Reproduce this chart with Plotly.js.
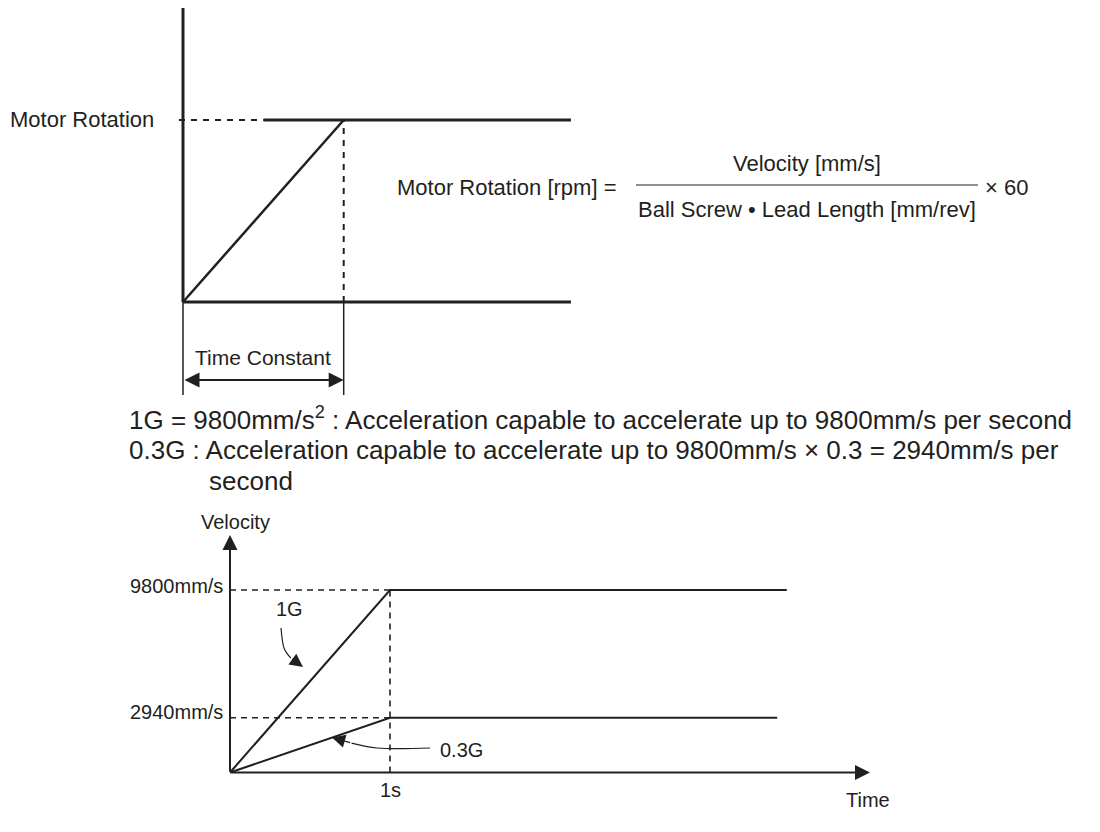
<!DOCTYPE html>
<html>
<head>
<meta charset="utf-8">
<script src="https://cdn.plot.ly/plotly-3.0.1.min.js"></script>
<style>html,body{margin:0;padding:0;background:#fff;}#chart{width:1100px;height:832px;}</style>
</head>
<body>
<div id="chart"></div>
<script>
// ---------- data ----------
// Top diagram: motor rotation vs time (in units of the time constant)
const rampTime = [0, 1];            // 0 .. one time constant
const rampRotation = [0, 1];        // 0 .. full motor rotation
const topLineEnd = 2.414;           // end of the drawn horizontal lines
const topAxisTop = 1.615;

// Bottom diagram: velocity vs time
const accelLabels = ['1G', '0.3G'];
const accelTime = [0, 1];                     // s
const velocity1G = [0, 9800];                 // mm/s
const velocity03G = [0, 2940];                // mm/s
const plateauEnd = [3.48, 3.42];              // s
const velocityTicks = [9800, 2940];
const velocityTickText = ['9800mm/s', '2940mm/s'];
const timeTickText = ['1s'];
const timeAxisEnd = 4.0;
const velocityAxisEnd = 12750;

// ---------- helpers ----------
const FONT = 'Liberation Sans, Arial, sans-serif';
const INK = '#231f20';
const W = 1100, H = 832;
const px = x => x / W;
const py = y => 1 - y / H;

const traces = [];
function seg(x, y, xa, ya, width, dash, shape) {
  traces.push({x: x, y: y, xaxis: xa, yaxis: ya, type: 'scatter', mode: 'lines',
    line: {color: INK, width: width, dash: dash || 'solid', shape: shape || 'linear'},
    hoverinfo: 'skip', showlegend: false});
}

// ----- top diagram -----
seg([0, 0], [0, topAxisTop], 'x', 'y', 3);                       // vertical axis
seg([0, 0], [0, -0.511], 'x', 'y', 1.5);                         // dimension tick
seg([rampTime[1], rampTime[1]], [0, -0.511], 'x', 'y', 1.5);     // dimension tick
seg([-0.025, 0.5], [rampRotation[1], rampRotation[1]], 'x', 'y', 2, '6px,6px');
seg([0.5, topLineEnd], [rampRotation[1], rampRotation[1]], 'x', 'y', 3);
seg([0, topLineEnd], [0, 0], 'x', 'y', 3);                       // baseline
seg([rampTime[1], rampTime[1]], [0, rampRotation[1]], 'x', 'y', 2, '6px,6px');
seg(rampTime, rampRotation, 'x', 'y', 2.5);                      // ramp

// ----- bottom diagram -----
seg([accelTime[0], accelTime[1], plateauEnd[0]], [velocity1G[0], velocity1G[1], velocity1G[1]], 'x2', 'y2', 2);
seg([accelTime[0], accelTime[1], plateauEnd[1]], [velocity03G[0], velocity03G[1], velocity03G[1]], 'x2', 'y2', 2);
seg([0, accelTime[1]], [velocityTicks[0], velocityTicks[0]], 'x2', 'y2', 1.6, '6px,5px');
seg([0, accelTime[1]], [velocityTicks[1], velocityTicks[1]], 'x2', 'y2', 1.6, '6px,5px');
seg([accelTime[1], accelTime[1]], [0, velocityTicks[0]], 'x2', 'y2', 1.6, '6px,5px');
// curved leader for 1G
seg([0.319, 0.34, 0.38], [7760, 6630, 6150], 'x2', 'y2', 1.2, 'solid', 'spline');
// curved leader for 0.3G
seg([1.25, 0.92, 0.76], [1316, 1316, 1580], 'x2', 'y2', 1.2, 'solid', 'spline');

const ann = [];
function txt(o) {
  ann.push(Object.assign({showarrow: false, xanchor: 'center', font: {family: FONT, size: 21, color: INK}}, o));
}
function arrow(o) {
  ann.push(Object.assign({text: '', showarrow: true, arrowcolor: INK, arrowhead: 2,
    arrowwidth: 2, arrowsize: 1.5, standoff: 0, startstandoff: 0}, o));
}

// top labels
txt({xref: 'paper', x: px(8), xanchor: 'left', yref: 'y', y: rampRotation[1], yanchor: 'middle',
     text: 'Motor Rotation', font: {family: FONT, size: 22, color: INK}});
txt({xref: 'x', x: rampTime[1] / 2, yref: 'y', y: -0.3077, text: 'Time Constant'});
arrow({xref: 'x', yref: 'y', x: rampTime[1], y: -0.4286, axref: 'x', ayref: 'y', ax: 0, ay: -0.4286,
       arrowside: 'end+start', startarrowhead: 2, startarrowsize: 1.5});

// formula
const FRAC = {family: FONT, size: 22, color: INK};
txt({xref: 'paper', yref: 'paper', x: px(395), xanchor: 'left', y: py(188), yanchor: 'middle',
     text: 'Motor Rotation [rpm] =', font: FRAC});
txt({xref: 'paper', yref: 'paper', x: px(807), xanchor: 'center', y: py(163), yanchor: 'middle',
     text: 'Velocity [mm/s]', font: FRAC});
txt({xref: 'paper', yref: 'paper', x: px(807), xanchor: 'center', y: py(209), yanchor: 'middle',
     text: 'Ball Screw • Lead Length [mm/rev]', font: FRAC});
txt({xref: 'paper', yref: 'paper', x: px(983), xanchor: 'left', y: py(188), yanchor: 'middle',
     text: '× 60', font: FRAC});

// description lines
const LINE_FONT = {family: FONT, size: 26, color: INK};
txt({xref: 'paper', yref: 'paper', x: px(127), xanchor: 'left', y: py(418), yanchor: 'middle',
     text: '1G = 9800mm/s<sup>2</sup> : Acceleration capable to accelerate up to 9800mm/s per second', font: LINE_FONT});
txt({xref: 'paper', yref: 'paper', x: px(127), xanchor: 'left', y: py(450), yanchor: 'middle',
     text: '0.3G : Acceleration capable to accelerate up to 9800mm/s × 0.3 = 2940mm/s per', font: LINE_FONT});
txt({xref: 'paper', yref: 'paper', x: px(207), xanchor: 'left', y: py(481), yanchor: 'middle',
     text: 'second', font: LINE_FONT});

// bottom axes arrows
arrow({xref: 'x2', yref: 'y2', x: timeAxisEnd, y: 0, axref: 'x2', ayref: 'y2', ax: 0, ay: 0});
arrow({xref: 'x2', yref: 'y2', x: 0, y: velocityAxisEnd, axref: 'x2', ayref: 'y2', ax: 0, ay: 0});
// leader arrowheads
arrow({xref: 'x2', yref: 'y2', x: 0.456, y: 5665, axref: 'x2', ayref: 'y2', ax: 0.38, ay: 6150,
       arrowwidth: 1.2, arrowsize: 2.2});
arrow({xref: 'x2', yref: 'y2', x: 0.6375, y: 0.6375 * velocity03G[1], axref: 'x2', ayref: 'y2', ax: 0.76, ay: 1580,
       arrowwidth: 1.2, arrowsize: 2.2});

// bottom labels
const SMALL = {family: FONT, size: 20, color: INK};
txt({xref: 'x2', yref: 'y2', x: 0, xshift: 5, y: velocityAxisEnd, yshift: 13, yanchor: 'middle', text: 'Velocity', font: SMALL});
velocityTicks.forEach((v, i) => {
  txt({xref: 'x2', yref: 'y2', x: 0, xanchor: 'right', xshift: -5, y: v, yshift: i === 0 ? 4 : 6,
       yanchor: 'middle', text: velocityTickText[i], font: SMALL});
});
txt({xref: 'x2', yref: 'y2', x: accelTime[1], y: 0, yshift: -17, yanchor: 'middle', text: timeTickText[0], font: SMALL});
txt({xref: 'x2', yref: 'y2', x: timeAxisEnd, y: 0, xshift: -2, yshift: -27, yanchor: 'middle', text: 'Time', font: SMALL});
txt({xref: 'x2', yref: 'y2', x: 0.369, y: 8780, yanchor: 'middle', text: accelLabels[0], font: SMALL});
txt({xref: 'x2', yref: 'y2', x: 1.3, xanchor: 'left', y: 1208, yanchor: 'middle', text: accelLabels[1], font: SMALL});

const hidden = {visible: false, fixedrange: true, showgrid: false, zeroline: false};
const layout = {
  width: W, height: H,
  margin: {l: 0, r: 0, t: 0, b: 0},
  paper_bgcolor: '#fff', plot_bgcolor: 'rgba(0,0,0,0)',
  showlegend: false,
  xaxis: Object.assign({domain: [0, 1], range: [-183 / 160.7, (W - 183) / 160.7], anchor: 'y'}, hidden),
  yaxis: Object.assign({domain: [0.51923, 1], range: [-0.5385, 1.6593], anchor: 'x'}, hidden),
  xaxis2: Object.assign({domain: [0, 1], range: [-1.4375, 5.4375], anchor: 'y2'}, hidden),
  yaxis2: Object.assign({domain: [0, 0.51923], range: [-3195, 20003], anchor: 'x2'}, hidden),
  shapes: [
    {type: 'line', xref: 'paper', yref: 'paper', x0: px(636), x1: px(978), y0: py(185), y1: py(185),
     line: {color: INK, width: 1.2}}
  ],
  annotations: ann
};

Plotly.newPlot('chart', traces, layout, {staticPlot: true, displayModeBar: false});
</script>
</body>
</html>
